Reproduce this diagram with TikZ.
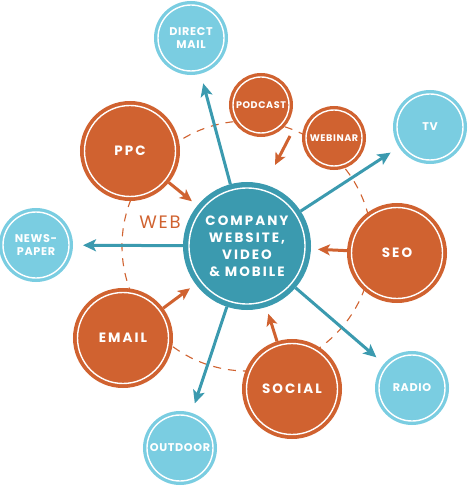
\documentclass[tikz,border=0pt]{standalone}
\usepackage{fontspec}
\setmainfont{Poppins}
\newfontfamily\labw[LetterSpace=15]{Poppins}
\newfontfamily\labs[LetterSpace=6]{Poppins}
\newfontfamily\labweb[LetterSpace=10]{Poppins}
\usetikzlibrary{arrows.meta}
\definecolor{myor}{HTML}{D06230}
\definecolor{mylb}{HTML}{7ACDE1}
\definecolor{myteal}{HTML}{3B9AAF}
\tikzset{
  ringnode/.style={circle, inner sep=0pt, align=center, text=white, double=white, double distance=1.4pt},
  bigor/.style={ringnode, fill=myor, draw=myor, line width=3.8pt, minimum size=91pt, outer sep=4.5pt,
    font=\labw\bfseries\fontsize{13.5}{17}\selectfont},
  smallor/.style={ringnode, fill=myor, draw=myor, line width=3.3pt, minimum size=56pt, outer sep=4pt,
    font=\labs\bfseries\fontsize{9.6}{11}\selectfont},
  bluenode/.style={ringnode, fill=mylb, draw=mylb, line width=3.3pt, minimum size=66pt, outer sep=4pt,
    font=\labs\bfseries\fontsize{11.2}{13}\selectfont},
  centernode/.style={ringnode, fill=myteal, draw=myteal, line width=5.3pt, minimum size=116pt, outer sep=6pt,
    font=\labw\bfseries\fontsize{13.5}{17}\selectfont},
  webring/.style={draw=myor, line width=1.1pt, dash pattern=on 8pt off 7pt},
  bluearrow/.style={draw=myteal, line width=3pt, -{Stealth[length=13pt,width=12pt,inset=3pt]}, shorten >=10pt},
  orarrow/.style={draw=myor, line width=3pt, -{Stealth[length=12pt,width=11pt,inset=3pt]}, shorten >=7pt},
  weblabel/.style={text=myor, font=\labweb\fontsize{18}{20}\selectfont, inner sep=0pt}
}
\begin{document}
\begin{tikzpicture}[x=1pt,y=-1pt]
\useasboundingbox (0,0) rectangle (468,486);
\coordinate (cc) at (247,246);
\draw[webring] (cc) circle[radius=125pt];
\node[centernode] (c) at (cc) {COMPANY\\WEBSITE,\\VIDEO\\\& MOBILE};
\node[bluenode] (dm) at (191,38) {DIRECT\\MAIL};
\node[bluenode] (tv) at (430,127) {TV};
\node[bluenode] (np) at (36,245) {NEWS-\\PAPER};
\node[bluenode] (radio) at (412,388) {RADIO};
\node[bluenode] (out) at (180,448) {OUTDOOR};
\node[bigor] (ppc) at (130,151) {PPC};
\node[bigor] (seo) at (397,253) {SEO};
\node[bigor] (email) at (123,338) {EMAIL};
\node[bigor] (social) at (292,389) {SOCIAL};
\node[smallor] (pod) at (261,105) {PODCAST};
\node[smallor] (web) at (334,138) {WEBINAR};
\node[weblabel] (weblbl) at (160,222) {WEB};
\coordinate (pa) at (290,136);
\coordinate (pb) at (275,165);
\draw[bluearrow] (c) -- (dm);
\draw[bluearrow] (c) -- (tv);
\draw[bluearrow] (c) -- (np);
\draw[bluearrow] (c) -- (radio);
\draw[bluearrow] (c) -- (out);
\draw[orarrow] (ppc) -- (c);
\draw[orarrow] (seo) -- (c);
\draw[orarrow] (email) -- (c);
\draw[orarrow] (social) -- (c);
\draw[orarrow, shorten >=0pt] (pa) -- (pb);
\end{tikzpicture}
\end{document}
